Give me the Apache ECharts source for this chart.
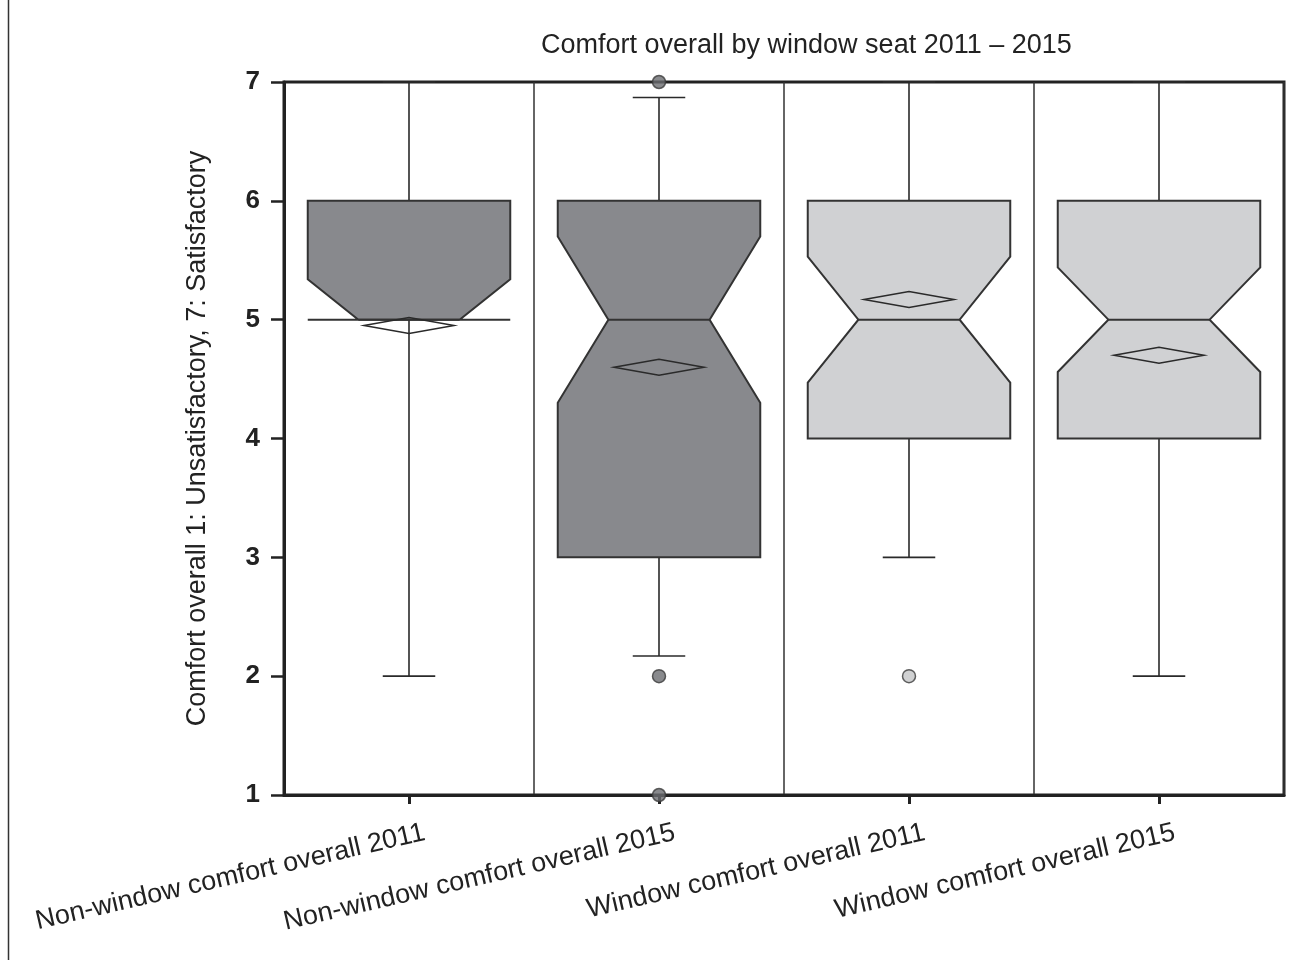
<!DOCTYPE html>
<html>
<head>
<meta charset="utf-8">
<script src="https://cdn.jsdelivr.net/npm/echarts@6/dist/echarts.min.js"></script>
<style>
  html, body { margin: 0; padding: 0; background: #fff; }
  #chart { width: 1304px; height: 960px; }
</style>
</head>
<body>
<div id="chart"></div>
<script>
// ---- Data ----
var categories = [
  'Non-window comfort overall 2011',
  'Non-window comfort overall 2015',
  'Window comfort overall 2011',
  'Window comfort overall 2015'
];
var whiskerLow  = [2, 2.17, 3, 2];
var q1          = [5, 3, 4, 4];
var median      = [5, 5, 5, 5];
var q3          = [6, 6, 6, 6];
var whiskerHigh = [7, 6.87, 7, 7];
var notchLow    = [4.66, 4.30, 4.47, 4.56];
var notchHigh   = [5.34, 5.70, 5.53, 5.44];
var means       = [4.95, 4.60, 5.17, 4.70];
// outliers: [category index, value]
var outlierCat   = [1, 1, 1, 2];
var outlierValue = [7, 2, 1, 2];
var yTicks = [1, 2, 3, 4, 5, 6, 7];

// ---- Styles ----
var boxFill = ['#88898d', '#88898d', '#d0d1d3', '#d0d1d3'];
var outlierFill = ['#6c6d71', '#6c6d71', '#c4c5c7', '#c4c5c7'];
var ink = '#2a2a2a';
var FONT = '"Liberation Sans", Arial, Helvetica, sans-serif';

var boxData = categories.map(function (c, i) {
  return [i, whiskerLow[i], q1[i], median[i], q3[i], whiskerHigh[i], notchLow[i], notchHigh[i], means[i]];
});
var outlierData = outlierCat.map(function (ci, k) {
  return {
    value: [ci, outlierValue[k]],
    itemStyle: { color: outlierFill[ci], borderColor: '#3a3a3a', borderWidth: 1.5 }
  };
});

function renderBox(params, api) {
  var i = api.value(0);
  var band = api.size([1, 0])[0];
  var hw = band * 0.405;     // box half width
  var nw = hw * 0.5;         // notch waist half width
  var cw = band * 0.105;     // whisker cap half width
  var dw = band * 0.18;      // diamond half width
  var dh = 8;                // diamond half height (px)
  var wl = api.value(1), bq1 = api.value(2), med = api.value(3), bq3 = api.value(4), wh = api.value(5);
  var nlo = Math.max(api.value(6), bq1), nhi = Math.min(api.value(7), bq3), mn = api.value(8);
  var cx = api.coord([i, med])[0];
  function Y(v) { return api.coord([i, v])[1]; }
  var lineStyle = { stroke: ink, lineWidth: 1.6 };
  var children = [];
  // whiskers
  children.push({ type: 'line', shape: { x1: cx, y1: Y(bq3), x2: cx, y2: Y(wh) }, style: lineStyle });
  children.push({ type: 'line', shape: { x1: cx - cw, y1: Y(wh), x2: cx + cw, y2: Y(wh) }, style: lineStyle });
  children.push({ type: 'line', shape: { x1: cx, y1: Y(bq1), x2: cx, y2: Y(wl) }, style: lineStyle });
  children.push({ type: 'line', shape: { x1: cx - cw, y1: Y(wl), x2: cx + cw, y2: Y(wl) }, style: lineStyle });
  // notched box
  var pts = [
    [cx - hw, Y(bq3)], [cx + hw, Y(bq3)], [cx + hw, Y(nhi)], [cx + nw, Y(med)],
    [cx + hw, Y(nlo)], [cx + hw, Y(bq1)], [cx - hw, Y(bq1)], [cx - hw, Y(nlo)],
    [cx - nw, Y(med)], [cx - hw, Y(nhi)]
  ];
  children.push({ type: 'polygon', shape: { points: pts },
    style: { fill: boxFill[i], stroke: '#333', lineWidth: 2, lineJoin: 'miter' } });
  // median line across waist
  children.push({ type: 'line', shape: { x1: cx - nw, y1: Y(med), x2: cx + nw, y2: Y(med) },
    style: { stroke: '#333', lineWidth: 2 } });
  // mean diamond
  var my = Y(mn);
  children.push({ type: 'polygon', shape: { points: [[cx - dw, my], [cx, my - dh], [cx + dw, my], [cx, my + dh]] },
    style: { fill: 'none', stroke: ink, lineWidth: 1.5 } });
  return { type: 'group', children: children };
}

var chart = echarts.init(document.getElementById('chart'), null, { renderer: 'canvas' });
chart.setOption({
  backgroundColor: '#ffffff',
  animation: false,
  title: {
    text: 'Comfort overall by window seat 2011 – 2015',
    left: 536, top: 27,
    textStyle: { fontFamily: FONT, fontSize: 27, fontWeight: 'normal', color: '#222' }
  },
  grid: {
    left: 284, right: 20, top: 82, bottom: 165,
    show: true, borderColor: '#222', borderWidth: 3, backgroundColor: 'transparent'
  },
  graphic: [{
    type: 'line', shape: { x1: 8.5, y1: 0, x2: 8.5, y2: 960 },
    style: { stroke: '#333', lineWidth: 1.5 }, silent: true
  }],
  xAxis: {
    type: 'category',
    data: categories,
    boundaryGap: true,
    axisLine: { show: true, lineStyle: { color: '#222', width: 3 } },
    axisTick: { show: true, alignWithLabel: true, length: 9, lineStyle: { color: '#222', width: 3 } },
    splitLine: { show: true, lineStyle: { color: '#333', width: 1.5 } },
    axisLabel: {
      interval: 0, rotate: 13, align: 'right', verticalAlign: 'middle', margin: 41,
      fontFamily: FONT, fontSize: 27, color: '#222',
      formatter: function (v) { return '{a|' + v + '}'; },
      rich: { a: { fontFamily: FONT, fontSize: 27, color: '#222', padding: [0, -16, 0, 0] } }
    }
  },
  yAxis: {
    type: 'value',
    min: yTicks[0], max: yTicks[yTicks.length - 1], interval: 1,
    name: 'Comfort overall 1: Unsatisfactory, 7: Satisfactory',
    nameLocation: 'middle', nameGap: 73,
    nameTextStyle: { fontFamily: FONT, fontSize: 27, color: '#222' },
    axisLine: { show: true, lineStyle: { color: '#222', width: 3 } },
    axisTick: { show: true, length: 13, lineStyle: { color: '#222', width: 2.5 } },
    splitLine: { show: false },
    axisLabel: { margin: 24, fontFamily: FONT, fontSize: 26, fontWeight: 'bold', color: '#222' }
  },
  series: [
    {
      type: 'custom',
      renderItem: renderBox,
      encode: { x: 0, y: [1, 2, 3, 4, 5, 6, 7, 8] },
      data: boxData,
      z: 3
    },
    {
      type: 'scatter',
      symbol: 'circle',
      symbolSize: 13,
      data: outlierData,
      z: 4
    }
  ]
});
</script>
</body>
</html>
